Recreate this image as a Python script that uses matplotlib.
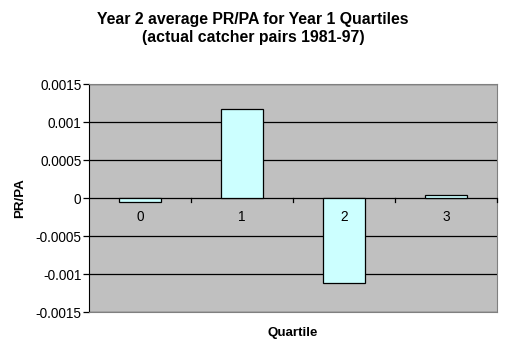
import matplotlib.pyplot as plt
import numpy as np

plt.rcParams['font.family'] = ['Liberation Sans', 'DejaVu Sans']

quartiles = ['0', '1', '2', '3']
pr_pa = [-0.00005, 0.00118, -0.00112, 0.000035]
yticks = [-0.0015, -0.001, -0.0005, 0, 0.0005, 0.001, 0.0015]
ytick_labels = ['-0.0015', '-0.001', '-0.0005', '0', '0.0005', '0.001', '0.0015']

fig = plt.figure(figsize=(5.06, 3.57), dpi=100)
ax = fig.add_axes([0.176, 0.126, 0.806, 0.638])
ax.set_facecolor('#c0c0c0')

x = np.arange(len(quartiles))
for y in yticks:
    ax.axhline(y, color='black', lw=0.9, zorder=1)
ax.bar(x, pr_pa, width=0.41, color='#ccffff', edgecolor='black', lw=0.9, zorder=2)

ax.set_xlim(-0.5, len(quartiles) - 0.5)
ax.set_ylim(-0.0015, 0.0015)
ax.set_yticks(yticks)
ax.set_yticklabels(ytick_labels, fontsize=9.8)
ax.tick_params(axis='y', direction='out', length=4.5, width=0.9, pad=1)

# category labels sit below the zero line, ticks at the category boundaries
ax.set_xticks([])
for i, q in enumerate(quartiles):
    ax.text(i, -0.00025, q, ha='center', va='center', fontsize=9.8)
for b in np.arange(0.5, len(quartiles), 1.0):
    ax.plot([b, b], [0, -0.00005], color='black', lw=0.9, zorder=3, clip_on=False)

for s in ['top', 'right', 'bottom']:
    ax.spines[s].set_color('#808080')
ax.spines['left'].set_color('black')

fig.text(0.04, 0.445, 'PR/PA', rotation=90, ha='center', va='center', fontsize=9.6, fontweight='bold')
fig.text(0.579, 0.067, 'Quartile', ha='center', va='center', fontsize=9.6, fontweight='bold')
fig.text(0.5, 0.92, 'Year 2 average PR/PA for Year 1 Quartiles\n(actual catcher pairs 1981-97)',
         ha='center', va='center', fontsize=11.4, fontweight='bold', linespacing=1.3)

fig.savefig('out.png', dpi=100)
